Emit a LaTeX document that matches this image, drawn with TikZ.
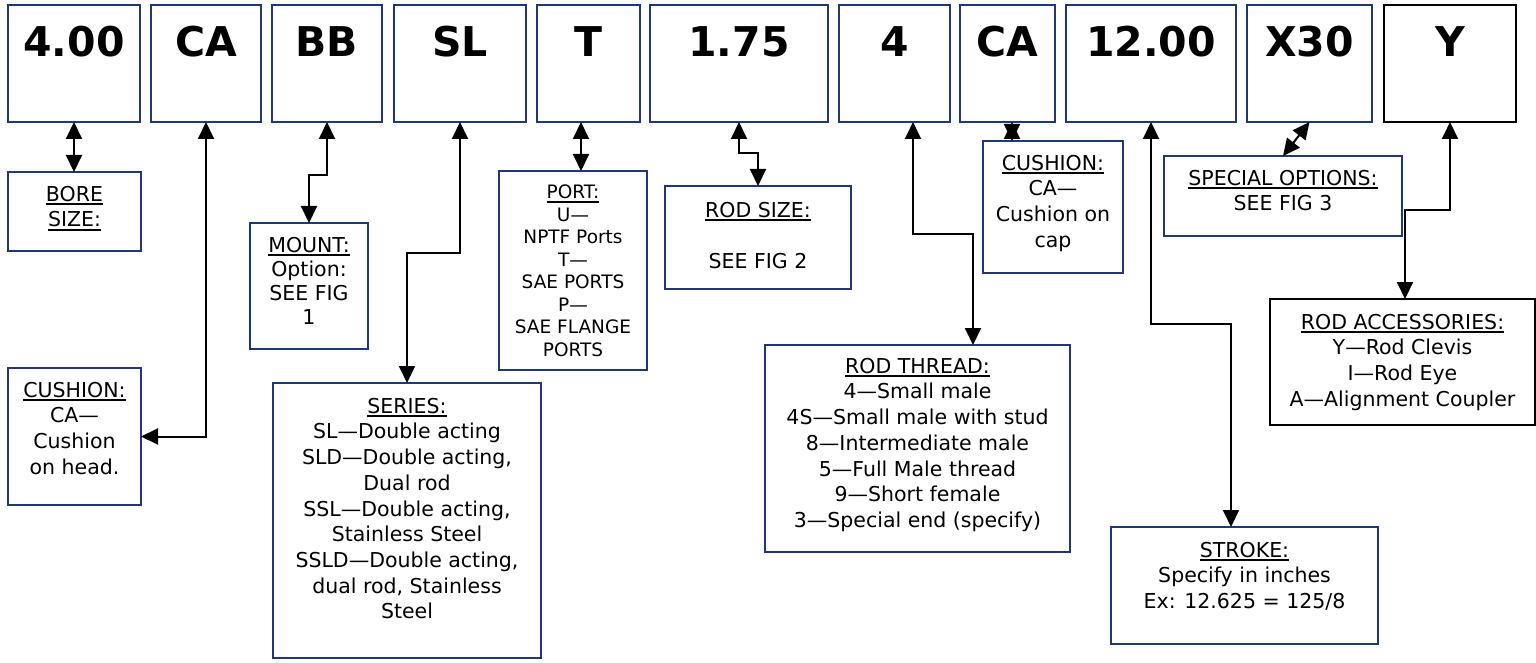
\documentclass[tikz,border=0pt]{standalone}
\usepackage{fontspec}
\setmainfont{DejaVu Sans}
\usepackage{tikz}
\usetikzlibrary{positioning}
\usetikzlibrary{arrows.meta}
\definecolor{boxblue}{RGB}{32,56,120}
\newsavebox{\ulbox}
\newcommand{\ulhead}[1]{\sbox{\ulbox}{#1}\rlap{\rule[-3.8pt]{\wd\ulbox}{2pt}}\usebox{\ulbox}}
\tikzset{
	box_top/.style = {
		draw=boxblue,
		line width=1.8pt,
		inner sep=0pt,
		outer sep=0pt,
		minimum height=117pt,
		text height=52pt,
		text depth=65pt,
		font=\fontsize{41}{41}\selectfont\bfseries
	},
	box_info/.style = {
		draw=boxblue,
		line width=1.8pt,
		inner sep=0pt,
		outer sep=0pt,
		anchor=north west
	},
	box_txt/.style = {
		align=center,
		inner sep=0pt,
		outer sep=0pt,
		font=\fontsize{20.5}{25.7}\selectfont
	},
	box_txt_small/.style = {
		box_txt,
		font=\fontsize{18.5}{22.5}\selectfont
	},
	link/.style = {
		<->,
		line width=2pt
	}
}
\begin{document}
\begin{tikzpicture}[x=1pt, y=-1pt, >={Triangle[length=17pt, width=16pt]}]
\useasboundingbox (0,0) rectangle (1536,663);
% code row
\node [box_top, minimum width=132pt, anchor=north west] (c_bore) at (8,5) {4.00};
\node [box_top, minimum width=110pt, right=11pt of c_bore] (c_cush) {CA};
\node [box_top, minimum width=110pt, right=11pt of c_cush] (c_mount) {BB};
\node [box_top, minimum width=132pt, right=12pt of c_mount] (c_series) {SL};
\node [box_top, minimum width=103pt, right=11pt of c_series] (c_port) {T};
\node [box_top, minimum width=178pt, right=10pt of c_port] (c_rod) {1.75};
\node [box_top, minimum width=111pt, right=11pt of c_rod] (c_thread) {4};
\node [box_top, minimum width=95pt, right=10pt of c_thread] (c_cap) {CA};
\node [box_top, minimum width=170pt, right=11pt of c_cap] (c_stroke) {12.00};
\node [box_top, minimum width=125pt, right=11pt of c_stroke] (c_special) {X30};
\node [box_top, draw=black, minimum width=132pt, right=12pt of c_special] (c_acc) {Y};
% info boxes
\node [box_info, minimum width=133pt, minimum height=79pt] (bore) at (8,172) {};
\node [box_info, minimum width=133pt, minimum height=137pt] (cush_head) at (8,368) {};
\node [box_info, minimum width=118pt, minimum height=126pt] (mount) at (250,223) {};
\node [box_info, minimum width=268pt, minimum height=275pt] (series) at (273,383) {};
\node [box_info, minimum width=148pt, minimum height=199pt] (port) at (499,171) {};
\node [box_info, minimum width=186pt, minimum height=103pt] (rod_size) at (665,186) {};
\node [box_info, minimum width=305pt, minimum height=207pt] (thread) at (765,345) {};
\node [box_info, minimum width=140pt, minimum height=132pt] (cush_cap) at (983,141) {};
\node [box_info, minimum width=267pt, minimum height=117pt] (stroke) at (1111,527) {};
\node [box_info, minimum width=238pt, minimum height=80pt] (special) at (1164,156) {};
\node [box_info, draw=black, minimum width=265pt, minimum height=126pt] (access) at (1270,299) {};
% texts
\node [box_txt, below=14pt of bore.north] (bore_txt) {\ulhead{BORE}\\\ulhead{SIZE:}};
\node [box_txt, below=14pt of cush_head.north] (cush_head_txt) {\ulhead{CUSHION:}\\CA—\\Cushion\\on head.};
\node [box_txt, font=\fontsize{20.5}{24}\selectfont, below=14pt of mount.north] (mount_txt) {\ulhead{MOUNT:}\\Option:\\SEE FIG\\1};
\node [box_txt, below=15pt of series.north] (series_txt) {\ulhead{SERIES:}\\SL—Double acting\\SLD—Double acting,\\Dual rod\\SSL—Double acting,\\Stainless Steel\\SSLD—Double acting,\\dual rod, Stainless\\Steel};
\node [box_txt_small, below=14pt of port.north] (port_txt) {\ulhead{PORT:}\\U—\\NPTF Ports\\T—\\SAE PORTS\\P—\\SAE FLANGE\\PORTS};
\node [box_txt, below=16pt of rod_size.north] (rod_size_txt) {\ulhead{ROD SIZE:}\\[25.7pt]SEE FIG 2};
\node [box_txt, below=13pt of thread.north] (thread_txt) {\ulhead{ROD THREAD:}\\4—Small male\\4S—Small male with stud\\8—Intermediate male\\5—Full Male thread\\9—Short female\\3—Special end (specify)};
\node [box_txt, below=14pt of cush_cap.north] (cush_cap_txt) {\ulhead{CUSHION:}\\CA—\\Cushion on\\cap};
\node [box_txt, below=15pt of stroke.north] (stroke_txt) {\ulhead{STROKE:}\\Specify in inches\\Ex: 12.625 = 125/8};
\node [box_txt, below=14pt of special.north] (special_txt) {\ulhead{SPECIAL OPTIONS:}\\SEE FIG 3};
\node [box_txt, below=15pt of access.north] (access_txt) {\ulhead{ROD ACCESSORIES:}\\Y—Rod Clevis\\I—Rod Eye\\A—Alignment Coupler};
% links
\draw [link] (c_bore.south) -- (c_bore.south |- bore.north);
\draw [link] (c_cush.south) |- (cush_head.east);
\draw [link] (c_mount.south) -- ++(0,53) -| (mount.north);
\draw [link] (c_series.south) -- ++(0,131) -| (series.north);
\draw [link] ([xshift=-7.5pt]c_port.south) -- ([xshift=-7.5pt]c_port.south |- port.north);
\draw [link] (c_rod.south) -- ++(0,31) -| (rod_size.north);
\draw [link] ([xshift=18.5pt]c_thread.south) -- ++(0,112) -| ([xshift=55.5pt]thread.north);
\draw [link] ([xshift=4.5pt]c_cap.south) -- ([xshift=4.5pt]c_cap.south |- cush_cap.north);
\draw [link] (c_stroke.south) -- ++(0,202) -| ([xshift=-13.5pt]stroke.north);
\draw [link] (c_special.south) -- (special.north);
\draw [link] (c_acc.south) -- ++(0,88) -| ([xshift=2.5pt]access.north);
\end{tikzpicture}
\end{document}
